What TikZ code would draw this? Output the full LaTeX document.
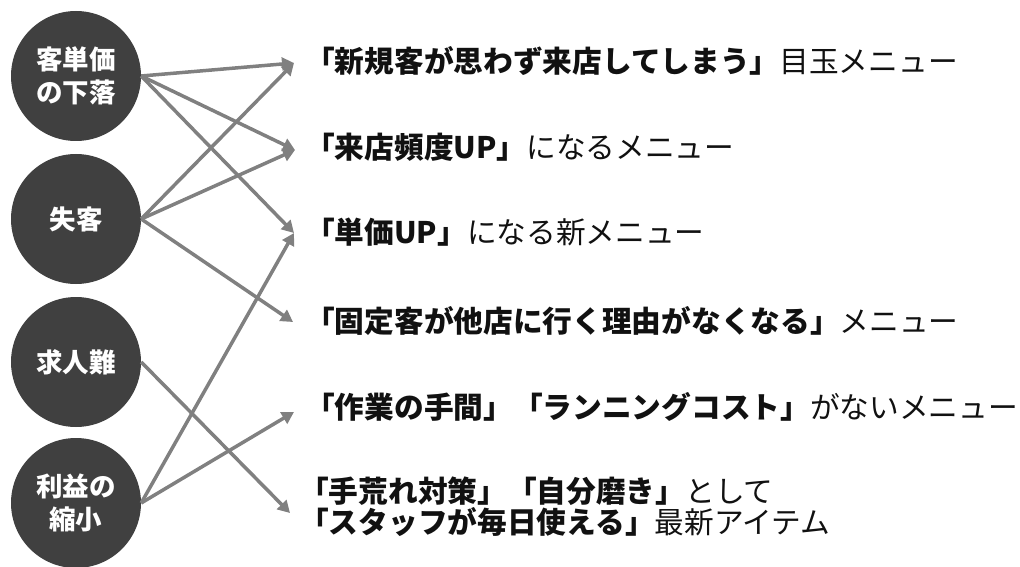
\documentclass[tikz,border=0pt]{standalone}
\usepackage{fontspec}
\newfontfamily\jp{Noto Sans CJK JP}
\usetikzlibrary{arrows.meta}
\definecolor{circfill}{HTML}{404040}
\definecolor{arrgray}{HTML}{808080}
\definecolor{txtdark}{HTML}{111111}
\newcommand\bt[1]{{\bfseries #1}}
\begin{document}
\begin{tikzpicture}[x=1pt,y=-1pt,
  prob/.style={circle, fill=circfill, minimum size=130pt, inner sep=0pt, text=white,
    font=\jp\bfseries\fontsize{26.5}{33}\selectfont, align=center},
  rowtext/.style={anchor=west, inner sep=0pt, text=txtdark,
    font=\jp\fontsize{29.7}{31}\selectfont, align=left},
  arr/.style={draw=arrgray, line width=3.5pt, -{Triangle[length=12pt,width=13pt]}}]
\useasboundingbox (0,0) rectangle (1020,567);
\node[prob] (c1) at (76,76) {客単価\\の下落};
\node[prob] (c2) at (76,219) {失客};
\node[prob] (c3) at (76,362) {求人難};
\node[prob] (c4) at (76,503) {利益の\\縮小};

\node[rowtext] (r1) at (305,61) {\bt{「新規客が思わず来店してしまう」}目玉メニュー};
\node[rowtext] (r2) at (305,147) {\bt{「来店頻度UP」}になるメニュー};
\node[rowtext] (r3) at (305,232) {\bt{「単価UP」}になる新メニュー};
\node[rowtext] (r4) at (305,321) {\bt{「固定客が他店に行く理由がなくなる」}メニュー};
\node[rowtext] (r5) at (305,407) {\bt{「作業の手間」「ランニングコスト」}がないメニュー};
\node[rowtext] (r6) at (299,507) {\bt{「手荒れ対策」「自分磨き」}として\\\bt{「スタッフが毎日使える」}最新アイテム};

\coordinate (t1) at (294,63);
\coordinate (t2) at (295,150);
\coordinate (t3) at (294,233);
\coordinate (t4) at (293,322);
\coordinate (t5) at (294,412);
\coordinate (t6) at (290,513);

\draw[arr] (c1.east) -- (t1);
\draw[arr] (c1.east) -- (t2);
\draw[arr] (c1.east) -- (t3);
\draw[arr] (c2.east) -- (t1);
\draw[arr] (c2.east) -- (t2);
\draw[arr] (c2.east) -- (t4);
\draw[arr] (c3.east) -- (t6);
\draw[arr] (c4.east) -- (t3);
\draw[arr] (c4.east) -- (t5);
\end{tikzpicture}
\end{document}
